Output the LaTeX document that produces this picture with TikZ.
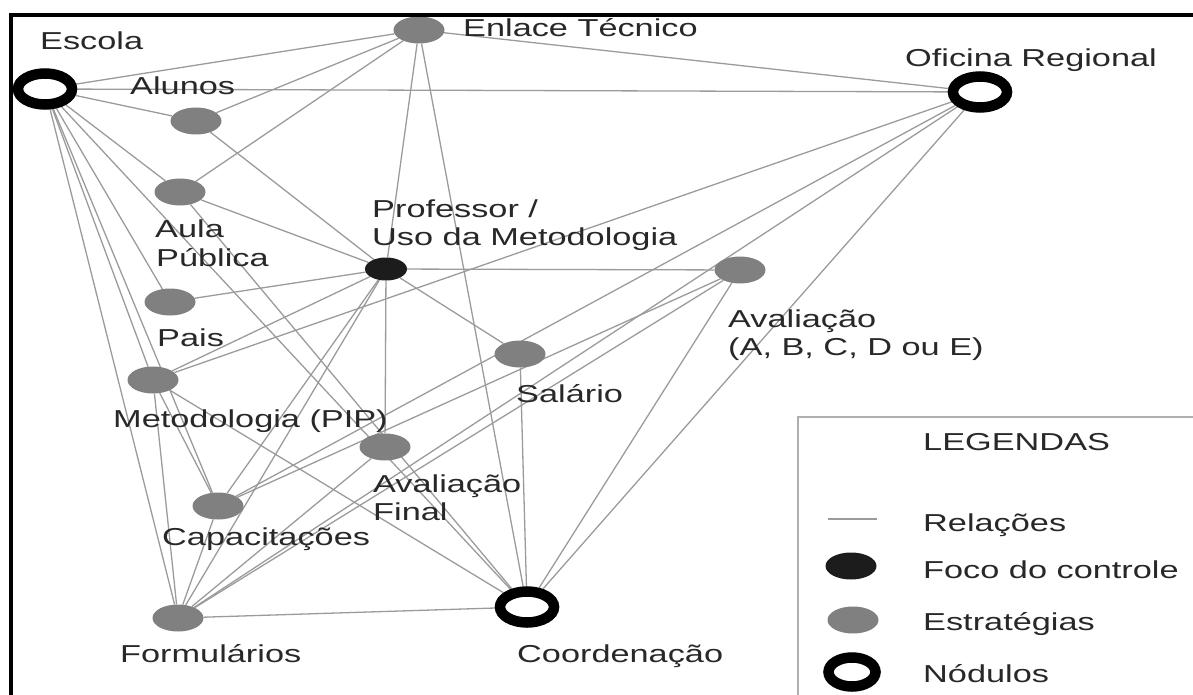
\documentclass[tikz,border=0pt]{standalone}
\usepackage{fontspec}
\setmainfont{Liberation Sans}[FakeStretch=1.4]
\usetikzlibrary{shapes.geometric,backgrounds}
\definecolor{edgegray}{RGB}{155,155,155}
\definecolor{nodegray}{RGB}{128,128,128}
\definecolor{focoblack}{RGB}{28,28,28}
\definecolor{txt}{RGB}{40,40,40}
\definecolor{boxgray}{RGB}{175,175,175}
\begin{document}
\begin{tikzpicture}[x=1pt,y=-1pt,
  strat/.style={ellipse,fill=nodegray,minimum width=51pt,minimum height=27pt,inner sep=0pt},
  foco/.style={ellipse,fill=focoblack,minimum width=42pt,minimum height=23pt,inner sep=0pt},
  nodulo/.style={ellipse,draw=black,line width=10.5pt,fill=white,minimum width=54pt,minimum height=31pt,inner sep=0pt},
  lbl/.style={anchor=base west,inner sep=0pt,text=txt,font=\fontsize{24.5}{29}\selectfont},
  rel/.style={draw=edgegray,line width=1.3pt}]
\useasboundingbox (0,0) rectangle (1193,695);

% nodes
\node[nodulo] (escola) at (45,89) {};
\node[strat] (enlace) at (419,30) {};
\node[nodulo] (oficina) at (980,92) {};
\node[strat] (alunos) at (196,121) {};
\node[strat] (aula) at (180,192) {};
\node[foco] (prof) at (386,269) {};
\node[strat] (aval) at (740,270) {};
\node[strat] (pais) at (170,302) {};
\node[strat] (metod) at (153,380) {};
\node[strat] (salario) at (520,354) {};
\node[strat] (avfinal) at (385,447) {};
\node[strat] (capac) at (218,506) {};
\node[strat] (form) at (178,618) {};
\node[nodulo] (coord) at (527,607) {};

% relations
\begin{scope}[on background layer]
\foreach \a/\b in {escola/enlace,escola/oficina,escola/alunos,escola/aula,escola/pais,
  escola/metod,escola/capac,escola/form,escola/coord,
  enlace/alunos,enlace/aula,enlace/prof,enlace/coord,enlace/oficina,
  alunos/prof,aula/prof,aula/coord,pais/prof,
  metod/prof,metod/oficina,metod/form,metod/capac,metod/coord,
  prof/aval,prof/salario,prof/avfinal,prof/capac,prof/form,
  capac/form,capac/oficina,capac/aval,
  form/avfinal,form/aval,form/oficina,form/coord,
  salario/coord,aval/coord,oficina/coord}
  \draw[rel] (\a) -- (\b);
\end{scope}

% labels
\node[lbl] (tescola) at (40,50) {Escola};
\node[lbl] (talunos) at (130,95) {Alunos};
\node[lbl] (tenlace) at (463,37) {Enlace Técnico};
\node[lbl] (toficina) at (905,67) {Oficina Regional};
\node[lbl] (taula1) at (155,237) {Aula};
\node[lbl] (taula2) at (156,266) {Pública};
\node[lbl] (tprof1) at (372,217) {Professor /};
\node[lbl] (tprof2) at (372,245) {Uso da Metodologia};
\node[lbl] (taval1) at (728,327) {Avaliação};
\node[lbl] (taval2) at (728,355) {(A, B, C, D ou E)};
\node[lbl] (tpais) at (157,346) {Pais};
\node[lbl] (tmetod) at (113,427) {Metodologia (PIP)};
\node[lbl] (tsalario) at (516,402) {Salário};
\node[lbl] (tavf1) at (373,492) {Avaliação};
\node[lbl] (tavf2) at (373,520) {Final};
\node[lbl] (tcapac) at (162,545) {Capacitações};
\node[lbl] (tform) at (120,662) {Formulários};
\node[lbl] (tcoord) at (517,662) {Coordenação};

% legend
\coordinate (boxbl) at (798,695);
\coordinate (boxtl) at (798,417);
\coordinate (boxtr) at (1193,417);
\draw[boxgray,line width=2pt] (boxbl) -- (boxtl) -- (boxtr);
\node[lbl] (tleg) at (923,450) {LEGENDAS};
\coordinate (rel1) at (828,519);
\coordinate (rel2) at (877,519);
\draw[rel] (rel1) -- (rel2);
\node[lbl] (trel) at (923,531) {Relações};
\node[foco,minimum width=51pt,minimum height=27pt] (lfoco) at (851,566) {};
\node[lbl] (tfoco) at (923,578) {Foco do controle};
\node[strat] (lstrat) at (853,620) {};
\node[lbl] (tstrat) at (923,630) {Estratégias};
\node[nodulo,minimum width=47pt,minimum height=29pt] (lnod) at (852,672) {};
\node[lbl] (tnod) at (923,682) {Nódulos};

% frame
\coordinate (fbl) at (11,695);
\coordinate (ftl) at (11,15);
\coordinate (ftr) at (1193,15);
\draw[black,line width=4.5pt] (fbl) -- (ftl) -- (ftr);
\end{tikzpicture}
\end{document}
